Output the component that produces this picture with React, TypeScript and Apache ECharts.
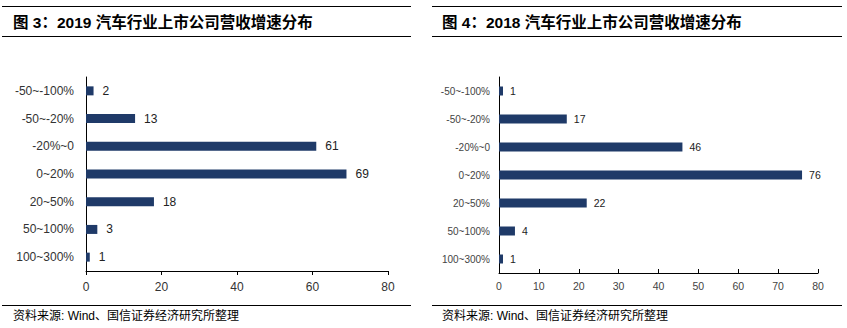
import React, { useEffect, useRef } from "react";
import * as echarts from "echarts";

const categories = ["-50~-100%", "-50~-20%", "-20%~0", "0~20%", "20~50%", "50~100%", "100~300%"];
const values2019 = [2, 13, 61, 69, 18, 3, 1];
const values2018 = [1, 17, 46, 76, 22, 4, 1];
const title2019 = "图 3：2019 汽车行业上市公司营收增速分布";
const title2018 = "图 4：2018 汽车行业上市公司营收增速分布";
const sourceText = "资料来源: Wind、国信证券经济研究所整理";

const BAR = "#1F3A68";
const FONT = "'Liberation Sans', Arial, 'Noto Sans CJK SC', sans-serif";

export default function App() {
  const ref = useRef<HTMLDivElement>(null);
  useEffect(() => {
    const chart = echarts.init(ref.current!, undefined, { renderer: "svg" });
    const hline = (x1: number, x2: number, y: number) => ({
      type: "line",
      shape: { x1, y1: y, x2, y2: y },
      style: { stroke: "#000", lineWidth: 1 },
      silent: true,
    });
    const txt = (x: number, y: number, text: string, size: number, weight: string, family: string) => ({
      type: "text",
      x,
      y,
      style: { text, fontSize: size, fontWeight: weight, fontFamily: family, fill: "#000", textVerticalAlign: "middle" },
      silent: true,
    });
    const option: any = {
      animation: false,
      backgroundColor: "#fff",
      grid: [
        { left: 86, top: 77, width: 302, height: 194 },
        { left: 499, top: 77, width: 319, height: 196 },
      ],
      xAxis: [
        {
          gridIndex: 0,
          type: "value",
          min: 0,
          max: 80,
          interval: 20,
          axisLine: { show: true, lineStyle: { color: "#000", width: 1 } },
          axisTick: { show: true, length: 4, lineStyle: { color: "#000" } },
          splitLine: { show: false },
          axisLabel: { fontSize: 12, color: "#333", fontFamily: FONT, margin: 10 },
        },
        {
          gridIndex: 1,
          type: "value",
          min: 0,
          max: 80,
          interval: 10,
          axisLine: { show: true, lineStyle: { color: "#000", width: 1 } },
          axisTick: { show: true, inside: true, length: 4, lineStyle: { color: "#000" } },
          splitLine: { show: false },
          axisLabel: { fontSize: 10.5, color: "#444", fontFamily: FONT, margin: 8 },
        },
      ],
      yAxis: [
        {
          gridIndex: 0,
          type: "category",
          data: categories,
          inverse: true,
          axisLine: { show: true, lineStyle: { color: "#000", width: 1 } },
          axisTick: { show: false },
          axisLabel: { fontSize: 12, color: "#333", fontFamily: FONT, margin: 12 },
        },
        {
          gridIndex: 1,
          type: "category",
          data: categories,
          inverse: true,
          axisLine: { show: true, lineStyle: { color: "#000", width: 1 } },
          axisTick: { show: false },
          axisLabel: { fontSize: 10, color: "#444", fontFamily: FONT, margin: 9 },
        },
      ],
      series: [
        {
          type: "bar",
          xAxisIndex: 0,
          yAxisIndex: 0,
          data: values2019,
          barWidth: 9,
          itemStyle: { color: BAR },
          label: { show: true, position: "right", distance: 9, fontSize: 12, color: "#222", fontFamily: FONT },
        },
        {
          type: "bar",
          xAxisIndex: 1,
          yAxisIndex: 1,
          data: values2018,
          barWidth: 9,
          itemStyle: { color: BAR },
          label: { show: true, position: "right", distance: 7, fontSize: 10.5, color: "#222", fontFamily: FONT },
        },
      ],
      graphic: [
        hline(2, 411, 6.5),
        hline(2, 411, 36.5),
        hline(2, 411, 305.5),
        hline(432, 842, 6.5),
        hline(432, 842, 36.5),
        hline(432, 842, 305.5),
        txt(13, 22, title2019, 15.5, "bold", "'Liberation Sans', 'Noto Sans CJK SC', sans-serif"),
        txt(442, 22, title2018, 15.5, "bold", "'Liberation Sans', 'Noto Sans CJK SC', sans-serif"),
        txt(13, 316, sourceText, 12, "normal", "'Liberation Sans', 'Noto Sans CJK SC', sans-serif"),
        txt(442, 316, sourceText, 12, "normal", "'Liberation Sans', 'Noto Sans CJK SC', sans-serif"),
      ],
    };
    chart.setOption(option);
    return () => chart.dispose();
  }, []);
  return <div ref={ref} style={{ position: "absolute", left: 0, top: 0, width: 847, height: 328 }} />;
}
